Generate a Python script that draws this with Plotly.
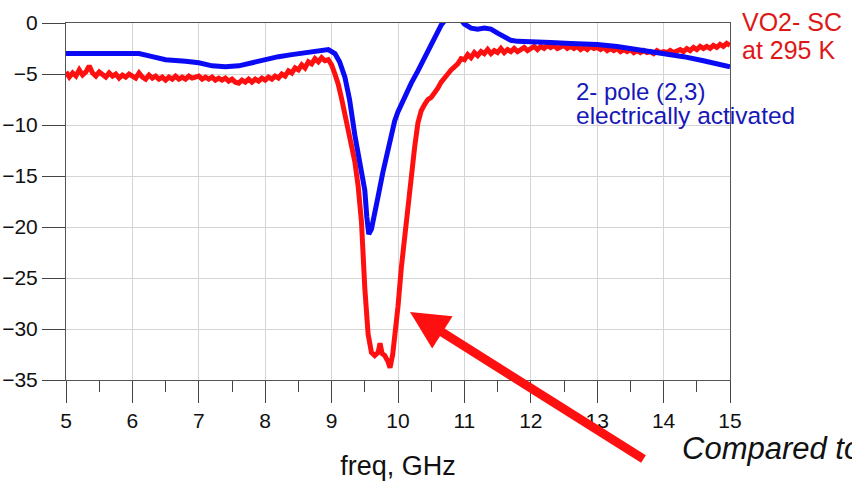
import plotly.graph_objects as go

# Measured |S21| (dB) vs frequency (GHz): VO2 switch at 295 K (red)
vo2_points = [
    (5.00, -4.8), (5.05, -5.3), (5.10, -4.9), (5.15, -5.2), (5.20, -4.6), (5.25, -5.1),
    (5.30, -4.8), (5.35, -4.2), (5.40, -4.9), (5.45, -5.2), (5.50, -4.8), (5.55, -5.1),
    (5.60, -5.3), (5.65, -4.9), (5.70, -5.2), (5.75, -5.0), (5.80, -5.4), (5.85, -5.1),
    (5.90, -5.3), (5.95, -5.0), (6.00, -5.2), (6.05, -5.4), (6.10, -4.9), (6.15, -5.3),
    (6.20, -5.5), (6.25, -5.1), (6.30, -5.4), (6.35, -5.2), (6.40, -5.5), (6.45, -5.3),
    (6.50, -5.6), (6.55, -5.3), (6.60, -5.5), (6.65, -5.2), (6.70, -5.5), (6.75, -5.3),
    (6.80, -5.5), (6.85, -5.2), (6.90, -5.4), (6.95, -5.3), (7.00, -5.2), (7.05, -5.5),
    (7.10, -5.3), (7.15, -5.5), (7.20, -5.3), (7.25, -5.6), (7.30, -5.4), (7.35, -5.6),
    (7.40, -5.4), (7.45, -5.7), (7.50, -5.5), (7.55, -5.8), (7.60, -5.9), (7.65, -5.6),
    (7.70, -5.8), (7.75, -5.5), (7.80, -5.8), (7.85, -5.5), (7.90, -5.7), (7.95, -5.4),
    (8.00, -5.6), (8.05, -5.3), (8.10, -5.5), (8.15, -5.2), (8.20, -5.4), (8.25, -5.0),
    (8.30, -5.2), (8.35, -4.7), (8.40, -4.9), (8.45, -4.4), (8.50, -4.6), (8.55, -4.1),
    (8.60, -4.4), (8.65, -3.8), (8.70, -4.0), (8.75, -3.5), (8.80, -3.8), (8.85, -3.4),
    (8.90, -3.7), (8.95, -3.6), (9.00, -4.1), (9.05, -5.0), (9.10, -6.0), (9.15, -7.4),
    (9.20, -9.0), (9.25, -10.5), (9.30, -11.8), (9.35, -13.6), (9.40, -16.0),
    (9.45, -19.5), (9.50, -26.0), (9.55, -30.5), (9.60, -32.3), (9.65, -32.6),
    (9.70, -32.3), (9.73, -31.4), (9.76, -32.4), (9.80, -32.6), (9.85, -33.2),
    (9.88, -33.8), (9.92, -32.5), (9.96, -30.5), (10.00, -27.8), (10.05, -24.0),
    (10.10, -20.8), (10.15, -18.0), (10.20, -15.5), (10.25, -12.2), (10.30, -9.8),
    (10.35, -8.6), (10.40, -8.0), (10.45, -7.5), (10.50, -7.3), (10.55, -6.9),
    (10.60, -6.4), (10.65, -5.8), (10.70, -5.3), (10.75, -5.0), (10.80, -4.6),
    (10.85, -4.3), (10.90, -4.0), (10.95, -3.5),
    (11.00, -3.6), (11.05, -3.1), (11.10, -3.4), (11.15, -2.9), (11.20, -3.2),
    (11.25, -2.8), (11.30, -3.0), (11.35, -2.6), (11.40, -3.0), (11.45, -2.7),
    (11.50, -2.9), (11.55, -2.5), (11.60, -2.9), (11.65, -2.6), (11.70, -2.8),
    (11.75, -2.5), (11.80, -2.8), (11.85, -2.6), (11.90, -2.4), (11.95, -2.7),
    (12.00, -2.5), (12.05, -2.3), (12.10, -2.6), (12.15, -2.3), (12.20, -2.5),
    (12.25, -2.2), (12.30, -2.4), (12.35, -2.2), (12.40, -2.5), (12.45, -2.3),
    (12.50, -2.2), (12.55, -2.5), (12.60, -2.3), (12.65, -2.5), (12.70, -2.3),
    (12.75, -2.6), (12.80, -2.4), (12.85, -2.6), (12.90, -2.3), (12.95, -2.5),
    (13.00, -2.4), (13.05, -2.6), (13.10, -2.4), (13.15, -2.7), (13.20, -2.5),
    (13.25, -2.7), (13.30, -2.5), (13.35, -2.8), (13.40, -2.6), (13.45, -2.8),
    (13.50, -2.6), (13.55, -2.9), (13.60, -2.7), (13.65, -2.9), (13.70, -2.7),
    (13.75, -2.9), (13.80, -2.8), (13.85, -3.0), (13.90, -2.7), (13.95, -2.9),
    (14.00, -2.8), (14.05, -2.9), (14.10, -2.7), (14.15, -2.9), (14.20, -2.8),
    (14.25, -2.6), (14.30, -2.8), (14.35, -2.5), (14.40, -2.7), (14.45, -2.4),
    (14.50, -2.6), (14.55, -2.3), (14.60, -2.5), (14.65, -2.3), (14.70, -2.5),
    (14.75, -2.2), (14.80, -2.4), (14.85, -2.1), (14.90, -2.3), (14.95, -2.0),
    (15.00, -2.2),
]
freq_vo2 = [p[0] for p in vo2_points]
s21_vo2 = [p[1] for p in vo2_points]

# 2-pole (2,3) filter, electrically activated (blue)
freq_filter = [
    5.0, 5.5, 6.0, 6.1, 6.3, 6.5, 6.8, 7.0, 7.2, 7.4, 7.6, 7.8, 8.0, 8.2, 8.4, 8.6,
    8.8, 8.95, 9.05, 9.12, 9.2, 9.27, 9.35, 9.42, 9.5, 9.53, 9.56, 9.6, 9.65, 9.7,
    9.77, 9.85, 9.9, 9.95, 10.0, 10.1, 10.2, 10.3, 10.43, 10.55, 10.65, 10.75, 10.85,
    10.95, 11.0, 11.1, 11.2, 11.3, 11.4, 11.5, 11.6, 11.7, 11.8, 12.0, 12.3, 12.6,
    13.0, 13.3, 13.6, 14.0, 14.3, 14.6, 15.0,
]
s21_filter = [
    -3.0, -3.05, -3.0, -3.0, -3.3, -3.6, -3.75, -3.9, -4.2, -4.3, -4.2, -3.9, -3.5,
    -3.3, -3.1, -2.9, -2.65, -2.6, -3.0, -3.8, -5.3, -7.5, -11.0, -13.5, -16.4, -19.0,
    -20.7, -20.2, -18.8, -17.0, -14.7, -12.3, -10.8, -9.6, -8.7, -7.2, -5.9, -4.7,
    -3.1, -1.4, -0.2, 0.6, 0.8, 0.3, -0.1, -0.5, -0.6, -0.5, -0.6, -1.0, -1.4, -1.7,
    -1.8, -1.8, -1.9, -2.0, -2.1, -2.3, -2.6, -2.9, -3.3, -3.7, -4.3,
]

x_ticks = [5, 6, 7, 8, 9, 10, 11, 12, 13, 14, 15]
y_ticks = [0, -5, -10, -15, -20, -25, -30, -35]

W, H = 852, 486
L, R, T, B = 66, 730, 23, 380


def px(xp):
    return (xp - L) / (R - L)


def py(yp):
    return (B - yp) / (B - T)


FONT = "Liberation Sans, Arial, sans-serif"

fig = go.Figure()
fig.add_trace(go.Scatter(x=freq_vo2, y=s21_vo2, mode="lines",
                         line=dict(color="#ff1010", width=5), hoverinfo="skip"))
fig.add_trace(go.Scatter(x=freq_filter, y=s21_filter, mode="lines",
                         line=dict(color="#0a0af5", width=5), hoverinfo="skip"))

axis_common = dict(
    showline=True, linecolor="#555555", linewidth=1, mirror=True,
    showgrid=True, gridcolor="#d4d4d4", gridwidth=1,
    ticks="outside", tickcolor="#444444", tickwidth=1,
    tickfont=dict(family=FONT, size=21, color="#111111"),
    zeroline=False, automargin=False,
)

fig.update_xaxes(
    range=[5, 15], tickvals=x_ticks, ticklen=22, ticklabelstandoff=0,
    minor=dict(dtick=0.5, tick0=5, ticks="outside", ticklen=11, tickcolor="#444444",
               showgrid=False),
    title=dict(text="freq, GHz", font=dict(family=FONT, size=27, color="#111111"),
               standoff=24),
    **axis_common,
)
fig.update_yaxes(
    range=[-35, 0], tickvals=y_ticks, ticklen=23, ticklabelstandoff=0,
    **axis_common,
)

annotations = [
    dict(text="VO2- SC", x=px(740), y=py(22), xanchor="left", yanchor="middle",
         font=dict(family=FONT, size=25, color="#dd1818")),
    dict(text="at 295 K", x=px(740), y=py(50), xanchor="left", yanchor="middle",
         font=dict(family=FONT, size=25, color="#dd1818")),
    dict(text="2- pole (2,3)", x=px(574), y=py(91), xanchor="left", yanchor="middle",
         font=dict(family=FONT, size=24, color="#1818b8")),
    dict(text="electrically activated", x=px(574), y=py(116), xanchor="left",
         yanchor="middle", font=dict(family=FONT, size=24.5, color="#1818b8")),
    dict(text="<i>Compared to</i>", x=px(680), y=py(448), xanchor="left",
         yanchor="middle", font=dict(family=FONT, size=31, color="#111111")),
    dict(text="<i>with</i>", x=px(812), y=py(500), xanchor="left",
         yanchor="middle", font=dict(family=FONT, size=31, color="#111111")),
    # arrow pointing at the VO2 notch
    dict(text="", x=px(410), y=py(312), showarrow=True, arrowhead=2,
         arrowsize=0.85, arrowwidth=9, arrowcolor="#ff1010",
         ax=235, ay=148, axref="pixel", ayref="pixel", standoff=0),
]
for a in annotations:
    a.setdefault("xref", "paper")
    a.setdefault("yref", "paper")
    a.setdefault("showarrow", False)
fig.update_layout(annotations=annotations)

fig.update_layout(
    width=W, height=H,
    margin=dict(l=L, r=W - R, t=T, b=H - B, pad=0),
    paper_bgcolor="white", plot_bgcolor="white",
    showlegend=False,
)

fig.write_html("out.html")
